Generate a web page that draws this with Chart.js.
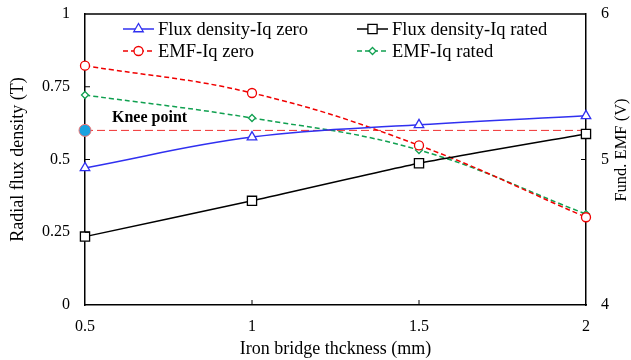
<!DOCTYPE html>
<html lang="en">
  <head>
    <meta charset="UTF-8" />
    <title>Iron bridge thickness</title>
    <script src="https://cdn.jsdelivr.net/npm/chart.js"></script>
    <style>
      html, body { margin: 0; padding: 0; background: #fff; }
      #wrap { width: 631px; height: 360px; }
    </style>
  </head>
  <body>
    <div id="wrap"><canvas id="chart" width="631" height="360"></canvas></div>
    <script>
      // data
      const thickness = [0.5, 1, 1.5, 2];
      const fluxIqZero = [0.471, 0.577, 0.619, 0.65];
      const fluxIqRated = [0.235, 0.358, 0.487, 0.588];
      const emfIqZero = [5.645, 5.457, 5.097, 4.603];
      const emfIqRated = [5.443, 5.285, 5.065, 4.625];
      const kneeLevel = 0.6;
      const leftTicks = [0, 0.25, 0.5, 0.75, 1];
      const rightTicks = [4, 5, 6];
      const xTicks = [0.5, 1, 1.5, 2];

      const FONT = "'Liberation Serif', 'Times New Roman', serif";
      const pts = (arr) => arr.map((v, i) => ({ x: thickness[i], y: v }));

      // box frame, inward ticks, legend, knee label, right title
      const extrasPlugin = {
        id: "extras",
        afterDraw(chart) {
          const c = chart.ctx;
          const a = chart.chartArea;
          const sx = chart.scales.x, sy = chart.scales.y, sy1 = chart.scales.y1;
          c.save();
          c.strokeStyle = "#000";
          c.lineWidth = 1.5;
          c.beginPath();
          c.moveTo(a.left, a.top);
          c.lineTo(a.right, a.top);
          c.stroke();
          c.lineWidth = 1;
          c.beginPath();
          xTicks.slice(1, -1).forEach((v) => {
            const px = sx.getPixelForValue(v);
            c.moveTo(px, a.bottom);
            c.lineTo(px, a.bottom - 5);
          });
          leftTicks.slice(1, -1).forEach((v) => {
            const py = sy.getPixelForValue(v);
            c.moveTo(a.left, py);
            c.lineTo(a.left + 5, py);
          });
          rightTicks.slice(1, -1).forEach((v) => {
            const py = sy1.getPixelForValue(v);
            c.moveTo(a.right, py);
            c.lineTo(a.right - 5, py);
          });
          c.stroke();

          const items = [
            { ds: 0, x: a.left + 38, y: a.top + 15 },
            { ds: 1, x: a.left + 272, y: a.top + 15 },
            { ds: 2, x: a.left + 38, y: a.top + 37 },
            { ds: 3, x: a.left + 272, y: a.top + 37 },
          ];
          items.forEach((it) => {
            const ds = chart.data.datasets[it.ds];
            c.strokeStyle = ds.borderColor;
            c.lineWidth = ds.borderWidth;
            c.setLineDash(ds.borderDash || []);
            c.beginPath();
            c.moveTo(it.x, it.y);
            c.lineTo(it.x + 31, it.y);
            c.stroke();
            c.setLineDash([]);
            c.fillStyle = "#fff";
            c.lineWidth = ds.pointBorderWidth;
            Chart.helpers.drawPoint(
              c,
              { pointStyle: ds.pointStyle, radius: ds.pointRadius, borderWidth: ds.pointBorderWidth, rotation: 0 },
              it.x + 15.5,
              it.y
            );
            c.fillStyle = "#000";
            c.font = "18.5px " + FONT;
            c.textBaseline = "middle";
            c.textAlign = "left";
            c.fillText(ds.label, it.x + 35, it.y + 1);
          });

          c.font = "bold 16px " + FONT;
          c.fillStyle = "#000";
          c.textBaseline = "middle";
          c.fillText("Knee point", a.left + 27, 118);

          c.translate(622, 150);
          c.rotate(-Math.PI / 2);
          c.textAlign = "center";
          c.font = "16.5px " + FONT;
          c.fillText("Fund. EMF (V)", 0, 0);
          c.restore();
        },
      };

      const fixWidth = (w) => (s) => { s.width = w; s.paddingTop = 0; s.paddingBottom = 0; };

      const ctx = document.getElementById("chart").getContext("2d");
      new Chart(ctx, {
        type: "line",
        data: {
          datasets: [
            {
              label: "Flux density-Iq zero",
              data: pts(fluxIqZero),
              yAxisID: "y",
              borderColor: "#3030f0",
              backgroundColor: "#fff",
              pointBorderColor: "#3030f0",
              borderWidth: 1.5,
              pointStyle: "triangle",
              pointRadius: 5.5,
              pointBorderWidth: 1.3,
              tension: 0.4,
              clip: false,
            },
            {
              label: "Flux density-Iq rated",
              data: pts(fluxIqRated),
              yAxisID: "y",
              borderColor: "#000",
              backgroundColor: "#fff",
              pointBorderColor: "#000",
              borderWidth: 1.5,
              pointStyle: "rect",
              pointRadius: 6.5,
              pointBorderWidth: 1.3,
              tension: 0.15,
              clip: false,
            },
            {
              label: "EMF-Iq zero",
              data: pts(emfIqZero),
              yAxisID: "y1",
              borderColor: "#f00000",
              backgroundColor: "#fff",
              pointBorderColor: "#f00000",
              borderWidth: 1.5,
              borderDash: [5, 3],
              pointStyle: "circle",
              pointRadius: 4.5,
              pointBorderWidth: 1.3,
              tension: 0.4,
              clip: false,
            },
            {
              label: "EMF-Iq rated",
              data: pts(emfIqRated),
              yAxisID: "y1",
              borderColor: "#10a050",
              backgroundColor: "#fff",
              pointBorderColor: "#10a050",
              borderWidth: 1.5,
              borderDash: [5, 3],
              pointStyle: "rectRot",
              pointRadius: 3.5,
              pointBorderWidth: 1.3,
              tension: 0.4,
              clip: false,
            },
            {
              label: "Knee point",
              data: [
                { x: thickness[0], y: kneeLevel },
                { x: thickness[thickness.length - 1], y: kneeLevel },
              ],
              yAxisID: "y",
              borderColor: "#f03030",
              borderWidth: 1,
              borderDash: [8, 4],
              pointRadius: [6, 0],
              pointStyle: "circle",
              pointBackgroundColor: "#1aa3e0",
              pointBorderColor: "#f07070",
              pointBorderWidth: 1,
              clip: false,
            },
          ],
        },
        plugins: [extrasPlugin],
        options: {
          responsive: false,
          animation: false,
          layout: { padding: { top: 14, right: 0, left: 0, bottom: 0 } },
          plugins: { legend: { display: false }, tooltip: { enabled: false } },
          scales: {
            x: {
              type: "linear",
              min: 0.5,
              max: 2,
              afterBuildTicks: (s) => { s.ticks = xTicks.map((v) => ({ value: v })); },
              afterFit: (s) => { s.height = 55; s.paddingLeft = 0; s.paddingRight = 0; },
              grid: { display: false, drawTicks: false },
              border: { color: "#000", width: 1.5 },
              ticks: { color: "#000", font: { family: FONT, size: 16 }, padding: 12, maxRotation: 0, callback: (v) => String(v) },
              title: {
                display: true,
                text: "Iron bridge thckness (mm)",
                color: "#000",
                font: { family: FONT, size: 18 },
                padding: { top: 3, bottom: 0 },
              },
            },
            y: {
              position: "left",
              min: 0,
              max: 1,
              afterBuildTicks: (s) => { s.ticks = leftTicks.map((v) => ({ value: v })); },
              afterFit: fixWidth(85),
              grid: { display: false, drawTicks: false },
              border: { color: "#000", width: 1.5 },
              ticks: { color: "#000", font: { family: FONT, size: 16 }, padding: 15, callback: (v) => String(v) },
              title: {
                display: true,
                text: "Radial flux density (T)",
                color: "#000",
                font: { family: FONT, size: 18 },
                padding: { top: 7, bottom: 0 },
              },
            },
            y1: {
              position: "right",
              min: 4,
              max: 6,
              afterBuildTicks: (s) => { s.ticks = rightTicks.map((v) => ({ value: v })); },
              afterFit: fixWidth(45),
              grid: { display: false, drawTicks: false },
              border: { color: "#000", width: 1.5 },
              ticks: { color: "#000", font: { family: FONT, size: 16 }, padding: 15, callback: (v) => String(v) },
              title: { display: false },
            },
          },
        },
      });
    </script>
  </body>
</html>
